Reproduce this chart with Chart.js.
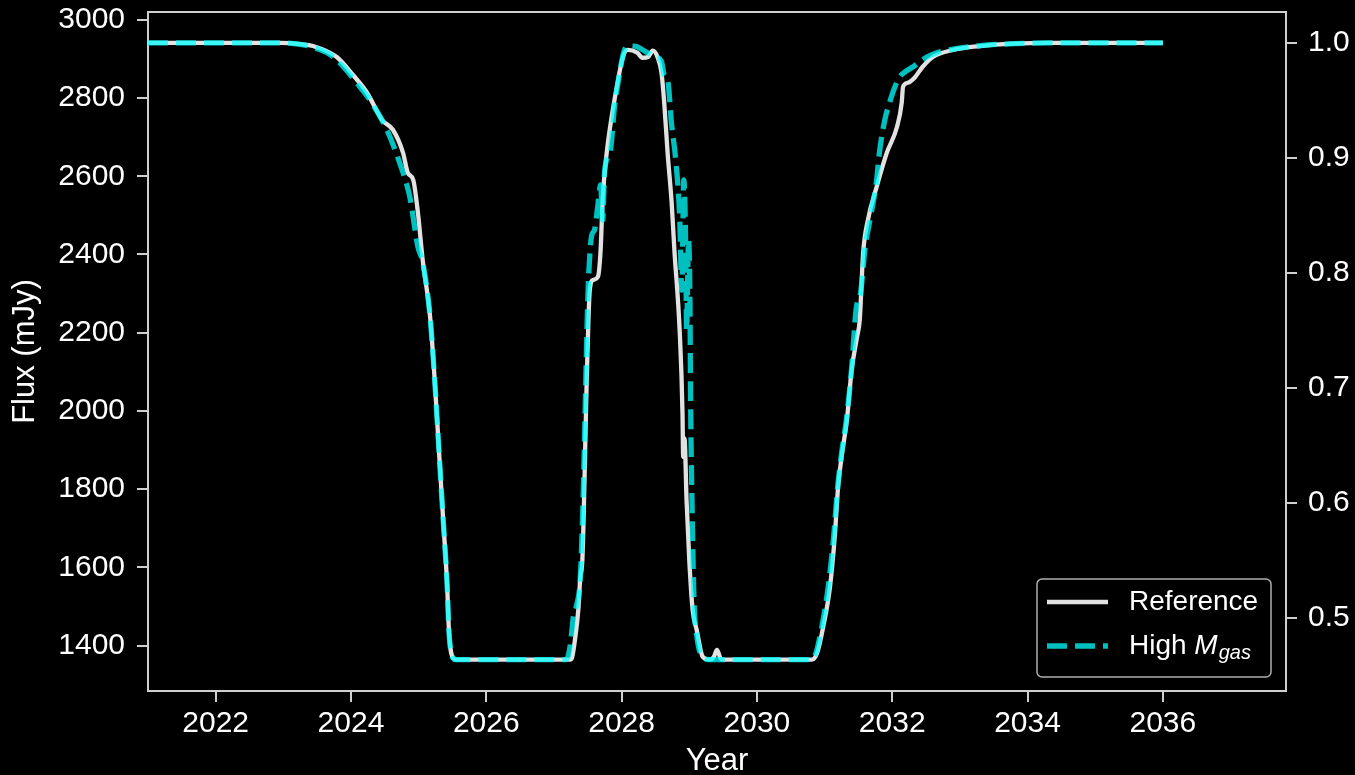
<!DOCTYPE html>
<html>
<head>
<meta charset="utf-8">
<script src="https://cdn.jsdelivr.net/npm/chart.js@4.4.0/dist/chart.umd.min.js"></script>
<style>
    html, body { margin: 0; padding: 0; background: #000; }
    #wrap { width: 1355px; height: 775px; }
</style>
</head>
<body>
<div id="wrap"><canvas id="fluxChart" width="1355" height="775"></canvas></div>
<script>
(function () {
    'use strict';

    // ── DATA ───────────────────────────────────────────────────────────────
    const refYears = [
        2021.00, 2022.95, 2023.25, 2023.44, 2023.79, 2024.03, 2024.24, 2024.46, 2024.62, 2024.77,
        2024.84, 2024.92, 2024.99, 2025.06, 2025.17, 2025.24, 2025.30, 2025.36, 2025.42, 2025.45,
        2025.51, 2025.56, 2027.24, 2027.27, 2027.31, 2027.36, 2027.39, 2027.42, 2027.49, 2027.53,
        2027.58, 2027.65, 2027.69, 2027.72, 2027.78, 2027.83, 2027.93, 2028.02, 2028.09, 2028.23,
        2028.31, 2028.39, 2028.46, 2028.53, 2028.59, 2028.63, 2028.68, 2028.74, 2028.78, 2028.86,
        2028.90, 2028.91, 2028.93, 2028.96, 2029.00, 2029.05, 2029.11, 2029.20, 2029.30, 2029.36,
        2029.41, 2029.46, 2029.50, 2030.81, 2030.89, 2030.98, 2031.08, 2031.15, 2031.20, 2031.26,
        2031.33, 2031.40, 2031.48, 2031.52, 2031.57, 2031.64, 2031.77, 2031.92, 2032.07, 2032.14,
        2032.16, 2032.23, 2032.33, 2032.45, 2032.60, 2032.90, 2033.30, 2033.80, 2034.30, 2036.00
    ];
    const refFlux = [
        2941, 2941, 2938, 2933, 2905, 2859, 2813, 2744, 2719, 2660,
        2609, 2591, 2506, 2386, 2240, 2072, 1900, 1729, 1560, 1432,
        1368, 1364, 1364, 1371, 1414, 1491, 1575, 1619, 2113, 2309,
        2335, 2343, 2412, 2540, 2660, 2726, 2829, 2905, 2923, 2916,
        2903, 2905, 2921, 2905, 2864, 2788, 2660, 2532, 2412, 2199,
        1995, 1882, 1930, 1772, 1619, 1491, 1440, 1371, 1364, 1370,
        1389, 1368, 1364, 1364, 1381, 1448, 1550, 1678, 1806, 1893,
        1977, 2105, 2189, 2233, 2404, 2488, 2573, 2660, 2726, 2788,
        2829, 2839, 2852, 2880, 2905, 2923, 2933, 2939, 2941, 2941
    ];

    const gasYears = [
        2021.00, 2022.95, 2023.25, 2023.44, 2023.74, 2024.13, 2024.30, 2024.53, 2024.72, 2024.87,
        2024.99, 2025.06, 2025.17, 2025.24, 2025.30, 2025.36, 2025.42, 2025.45, 2025.51, 2025.56,
        2027.18, 2027.22, 2027.25, 2027.29, 2027.33, 2027.39, 2027.43, 2027.50, 2027.53, 2027.56,
        2027.60, 2027.65, 2027.69, 2027.72, 2027.75, 2027.83, 2027.86, 2027.89, 2027.96, 2028.03,
        2028.09, 2028.23, 2028.38, 2028.50, 2028.59, 2028.63, 2028.68, 2028.74, 2028.80, 2028.86,
        2028.89, 2028.92, 2028.95, 2028.96, 2028.99, 2029.01, 2029.02, 2029.04, 2029.07, 2029.11,
        2029.20, 2029.30, 2030.78, 2030.86, 2030.95, 2031.05, 2031.13, 2031.19, 2031.25, 2031.32,
        2031.40, 2031.46, 2031.49, 2031.53, 2031.60, 2031.67, 2031.77, 2031.81, 2031.89, 2031.96,
        2032.04, 2032.11, 2032.19, 2032.31, 2032.41, 2032.51, 2032.66, 2032.90, 2033.30, 2033.80,
        2034.30, 2036.00
    ];
    const gasFlux = [
        2941, 2941, 2937, 2930, 2905, 2829, 2790, 2719, 2634, 2547,
        2419, 2380, 2240, 2072, 1900, 1729, 1560, 1432, 1368, 1364,
        1364, 1380, 1414, 1478, 1500, 1575, 1772, 2284, 2399, 2450,
        2463, 2527, 2578, 2488, 2616, 2660, 2706, 2770, 2852, 2916,
        2934, 2931, 2916, 2905, 2893, 2859, 2847, 2731, 2642, 2488,
        2309, 2591, 2386, 2207, 2437, 2284, 2028, 1772, 1517, 1427,
        1371, 1364, 1364, 1375, 1440, 1545, 1670, 1800, 1890, 1975,
        2110, 2250, 2284, 2300, 2420, 2488, 2591, 2660, 2744, 2788,
        2829, 2854, 2867, 2880, 2893, 2905, 2916, 2925, 2934, 2939,
        2941, 2941
    ];

    const yearTicks = [2022, 2024, 2026, 2028, 2030, 2032, 2034, 2036];
    const fluxTicks = [1400, 1600, 1800, 2000, 2200, 2400, 2600, 2800, 3000];
    const normTicks = [0.5, 0.6, 0.7, 0.8, 0.9, 1.0];

    const FLUX_REF = 2941;   // flux that maps to 1.0 on the right axis

    // ── STYLE ──────────────────────────────────────────────────────────────
    const FONT   = '"Liberation Sans", Arial, sans-serif';
    const AXIS   = '#cfcfcf';
    const WHITE  = 'rgba(238,238,238,0.95)';
    const CYAN   = 'rgba(0,255,255,0.75)';
    const DASH   = [20, 8];

    const X_MIN = 2021.0, X_MAX = 2037.82;
    const Y_MIN = 1284,   Y_MAX = 3020;

    const pts = (xs, ys) => xs.map((x, i) => ({ x, y: ys[i] }));

    const axisGrid = { drawOnChartArea: false, drawTicks: true, tickLength: 11, color: AXIS, lineWidth: 2 };
    const axisBorder = { display: true, color: AXIS, width: 2 };
    const tickFont = { family: FONT, size: 30 };

    // fixed axis sizes, no label overhang padding
    const fitTo = (w, h) => s => {
        if (w !== null) s.width = w;
        if (h !== null) s.height = h;
        s.paddingTop = s.paddingBottom = s.paddingLeft = s.paddingRight = 0;
    };

    // ── PLUGINS ────────────────────────────────────────────────────────────
    const frame = {
        id: 'frame',
        beforeDraw(chart) {
            const c = chart.ctx;
            c.save();
            c.fillStyle = '#000';
            c.fillRect(0, 0, chart.width, chart.height);
            c.restore();
        },
        afterDraw(chart) {
            const c = chart.ctx;
            const a = chart.chartArea;
            c.save();
            // top spine
            c.strokeStyle = AXIS;
            c.lineWidth = 2;
            c.beginPath();
            c.moveTo(a.left - 1, a.top);
            c.lineTo(a.right + 1, a.top);
            c.stroke();

            // legend box
            const w = 234, h = 98;
            const x0 = a.right - 15 - w;
            const y0 = a.bottom - 14 - h;
            c.fillStyle = 'rgba(0,0,0,0.8)';
            c.strokeStyle = 'rgba(204,204,204,0.85)';
            c.lineWidth = 1.5;
            c.beginPath();
            c.roundRect(x0, y0, w, h, 5);
            c.fill();
            c.stroke();

            const ds = chart.data.datasets;
            const rows = [y0 + 23, y0 + 67];
            const lx1 = x0 + 10, lx2 = x0 + 71, tx = x0 + 92;

            c.lineCap = 'butt';
            c.strokeStyle = ds[0].borderColor;
            c.lineWidth = ds[0].borderWidth;
            c.setLineDash([]);
            c.beginPath(); c.moveTo(lx1, rows[0]); c.lineTo(lx2, rows[0]); c.stroke();

            c.strokeStyle = ds[1].borderColor;
            c.lineWidth = ds[1].borderWidth;
            c.setLineDash(DASH);
            c.beginPath(); c.moveTo(lx1, rows[1]); c.lineTo(lx2, rows[1]); c.stroke();
            c.setLineDash([]);

            c.fillStyle = '#fff';
            c.textBaseline = 'middle';
            c.textAlign = 'left';
            c.font = `28px ${FONT}`;
            c.fillText('Reference', tx, rows[0]);

            const base = 'High ';
            c.fillText(base, tx, rows[1]);
            let x = tx + c.measureText(base).width;
            c.font = `italic 28px ${FONT}`;
            c.fillText('M', x, rows[1]);
            x += c.measureText('M').width + 1;
            c.font = `italic 20px ${FONT}`;
            c.fillText('gas', x, rows[1] + 7);
            c.restore();
        }
    };

    // ── CHART ──────────────────────────────────────────────────────────────
    new Chart(document.getElementById('fluxChart'), {
        type: 'line',
        data: {
            datasets: [{
                label: 'Reference',
                data: pts(refYears, refFlux),
                borderColor: WHITE,
                borderWidth: 4.3,
                pointRadius: 0,
                cubicInterpolationMode: 'monotone',
                order: 2,
                yAxisID: 'y'
            }, {
                label: 'High Mgas',
                data: pts(gasYears, gasFlux),
                borderColor: CYAN,
                borderWidth: 5.3,
                borderDash: DASH,
                borderCapStyle: 'butt',
                pointRadius: 0,
                cubicInterpolationMode: 'monotone',
                order: 1,
                yAxisID: 'y'
            }]
        },
        options: {
            responsive: false,
            animation: false,
            events: [],
            layout: { padding: { top: 12, left: 0, right: 0, bottom: 0 } },
            plugins: {
                legend: { display: false },
                tooltip: { enabled: false }
            },
            scales: {
                x: {
                    type: 'linear',
                    min: X_MIN,
                    max: X_MAX,
                    afterBuildTicks: s => { s.ticks = yearTicks.map(v => ({ value: v })); },
                    afterFit: fitTo(null, 84),
                    ticks: { color: '#fff', font: tickFont, padding: 4, maxRotation: 0, callback: v => String(v) },
                    grid: axisGrid,
                    border: axisBorder,
                    title: { display: true, text: 'Year', color: '#fff', font: { family: FONT, size: 31 }, padding: { top: 0, bottom: -5 } }
                },
                y: {
                    position: 'left',
                    min: Y_MIN,
                    max: Y_MAX,
                    afterBuildTicks: s => { s.ticks = fluxTicks.map(v => ({ value: v })); },
                    afterFit: fitTo(148, null),
                    ticks: { color: '#fff', font: tickFont, padding: 12, callback: v => String(v) },
                    grid: axisGrid,
                    border: axisBorder,
                    title: { display: true, text: 'Flux (mJy)', color: '#fff', font: { family: FONT, size: 31 }, padding: { top: 7, bottom: 0 } }
                },
                y2: {
                    position: 'right',
                    min: Y_MIN / FLUX_REF,
                    max: Y_MAX / FLUX_REF,
                    afterBuildTicks: s => { s.ticks = normTicks.map(v => ({ value: v })); },
                    afterFit: fitTo(69, null),
                    ticks: { color: '#fff', font: tickFont, padding: 11, callback: v => v.toFixed(1) },
                    grid: axisGrid,
                    border: axisBorder
                }
            }
        },
        plugins: [frame]
    });

})();
</script>
</body>
</html>
